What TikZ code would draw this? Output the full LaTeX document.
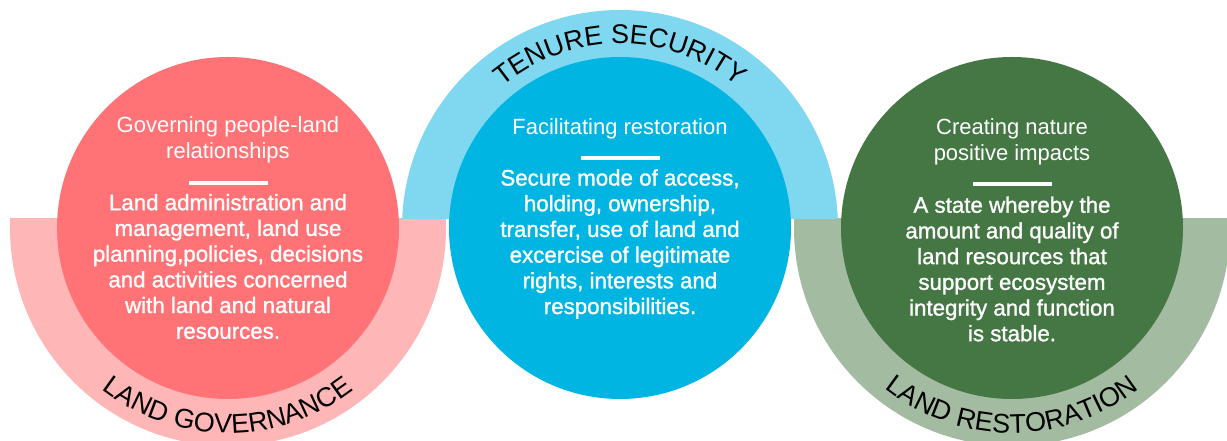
\documentclass[tikz,border=0pt]{standalone}
\usepackage{fontspec}
\setmainfont{Liberation Sans}
\newfontfamily\bodyf{Liberation Sans}[FakeBold=1.2]
\newfontfamily\arcf{Liberation Sans}
\usetikzlibrary{decorations.text}
\definecolor{pinkring}{HTML}{FFB6B6}
\definecolor{redc}{HTML}{FF7276}
\definecolor{lblue}{HTML}{80D8F0}
\definecolor{bluec}{HTML}{00B5E2}
\definecolor{sage}{HTML}{A3BCA1}
\definecolor{greenc}{HTML}{457744}
\begin{document}
\begin{tikzpicture}[x=1pt,y=1pt,
  disc/.style={circle, minimum size=342pt, inner sep=0pt, draw=none},
  ttl/.style={text=white, align=center, inner sep=0pt, font=\fontsize{22}{25.7}\selectfont},
  bdy/.style={text=white, align=center, inner sep=0pt, font=\bodyf\fontsize{22.3}{25.7}\selectfont},
  divider/.style={white, line width=3.5pt},
  arclabel/.style={decorate, decoration={text along path, text align=center,
      text={|\arcf\fontsize{27}{27}\selectfont|#1}}}
]
\useasboundingbox (0,0) rectangle (1227,441);
\coordinate (cL) at (228,213);
\coordinate (cM) at (620,213);
\coordinate (cR) at (1012,213);
% rings
\begin{scope}
  \clip (0,222) rectangle (1240,-20);
  \fill[pinkring] (cL) circle (218);
  \fill[sage] (cR) circle (218);
\end{scope}
\begin{scope}
  \clip (380,222) rectangle (860,450);
  \fill[lblue] (cM) circle (218);
\end{scope}
% circles
\node[disc, fill=redc] (L) at (cL) {};
\node[disc, fill=bluec] (M) at (cM) {};
\node[disc, fill=greenc] (R) at (cR) {};
% arc labels
\path[arclabel={LAND GOVERNANCE}] ([shift={(200:205)}]cL) arc (200:340:205);
\path[arclabel={TENURE SECURITY}] ([shift={(160:184)}]cM) arc (160:20:184);
\path[arclabel={LAND RESTORATION}] ([shift={(200:205)}]cR) arc (200:340:205);
% texts
\node[ttl] (Lt) at (228,301) {Governing people-land\\relationships};
\node[bdy] (Lb) at (228,174.5) {Land administration and\\management, land use\\planning,policies, decisions\\and activities concerned\\with land and natural\\resources.};
\node[ttl] (Mt) at (620,312) {Facilitating restoration};
\node[bdy] (Mb) at (620,197) {Secure mode of access,\\holding, ownership,\\transfer, use of land and\\excercise of legitimate\\rights, interests and\\responsibilities.};
\node[ttl] (Rt) at (1012,299.5) {Creating nature\\positive impacts};
\node[bdy] (Rb) at (1012,172) {A state whereby the\\amount and quality of\\land resources that\\support ecosystem\\integrity and function\\is stable.};
% dividers
\coordinate (Ld1) at (189,258); \coordinate (Ld2) at (268,258);
\coordinate (Md1) at (581,283); \coordinate (Md2) at (660,283);
\coordinate (Rd1) at (973,257); \coordinate (Rd2) at (1052,257);
\draw[divider] (Ld1) -- (Ld2);
\draw[divider] (Md1) -- (Md2);
\draw[divider] (Rd1) -- (Rd2);
\end{tikzpicture}
\end{document}
